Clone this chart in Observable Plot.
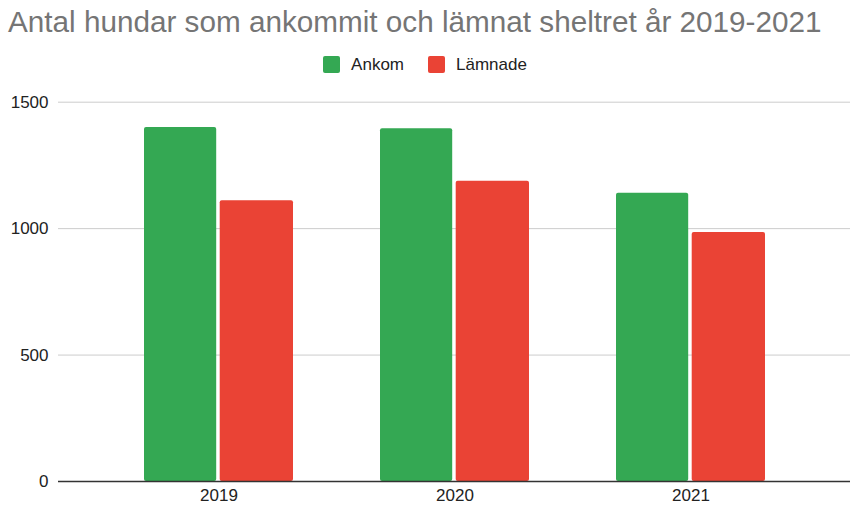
<!DOCTYPE html>
<html>
<head>
<meta charset="utf-8">
<script src="https://cdn.jsdelivr.net/npm/d3@7"></script>
<script src="https://cdn.jsdelivr.net/npm/@observablehq/plot@0.6"></script>
<style>
  html, body { margin: 0; padding: 0; background: #fff; }
  body { width: 850px; height: 506px; position: relative; overflow: hidden;
         font-family: "Liberation Sans", Arial, Helvetica, sans-serif; }
  #title { position: absolute; left: 8px; top: 7px; font-size: 29.7px; line-height: 1;
           color: #757575; white-space: nowrap; }
  #legend { position: absolute; left: 0; top: 56px; width: 850px; display: flex;
            justify-content: center; align-items: center; font-size: 17px; color: #222; line-height: 17px; }
  .item { display: flex; align-items: center; margin: 0 12px; }
  .sw { width: 17px; height: 17px; border-radius: 2px; margin-right: 11px; }
  #chart { position: absolute; left: 0; top: 85px; }
</style>
</head>
<body>
<div id="title"></div>
<div id="legend"></div>
<div id="chart"></div>
<script>
const titleText = "Antal hundar som ankommit och lämnat sheltret år 2019-2021";
const years = ["2019", "2020", "2021"];
const seriesNames = ["Ankom", "Lämnade"];
const ankom = [1400, 1395, 1140];
const lamnade = [1110, 1187, 985];
const yTicks = [0, 500, 1000, 1500];
const colors = ["#34a853", "#ea4335"];

document.getElementById("title").textContent = titleText;
const legend = document.getElementById("legend");
seriesNames.forEach((s, i) => {
  const it = document.createElement("div");
  it.className = "item";
  const sw = document.createElement("div");
  sw.className = "sw";
  sw.style.background = colors[i];
  const t = document.createElement("span");
  t.textContent = s;
  it.appendChild(sw); it.appendChild(t);
  legend.appendChild(it);
});

const rows = [];
years.forEach((y, i) => {
  rows.push({year: y, series: seriesNames[0], value: ankom[i]});
  rows.push({year: y, series: seriesNames[1], value: lamnade[i]});
});

const chart = Plot.plot({
  width: 850,
  height: 421,
  marginTop: 16.7,
  marginBottom: 25,
  marginLeft: 58,
  marginRight: 0,
  style: {fontFamily: "'Liberation Sans', Arial, sans-serif", fontSize: "17px", color: "#222", background: "white"},
  x: {domain: years, paddingInner: 0.37, paddingOuter: 0.358, label: null, tickSize: 0, tickPadding: 7},
  y: {domain: [0, 1500], ticks: yTicks, tickFormat: d => String(d), label: null, tickSize: 0, tickPadding: 10},
  marks: [
    Plot.ruleY(yTicks.filter(d => d > 0), {stroke: "#cccccc", strokeWidth: 1}),
    Plot.barY(rows.filter(d => d.series === seriesNames[0]), {x: "year", y: "value", fill: colors[0], insetRight: 76.8, rx: 2}),
    Plot.barY(rows.filter(d => d.series === seriesNames[1]), {x: "year", y: "value", fill: colors[1], insetLeft: 75.7, rx: 2}),
    Plot.ruleY([0], {stroke: "#333333", strokeWidth: 1.5})
  ]
});
document.getElementById("chart").appendChild(chart);
</script>
</body>
</html>
